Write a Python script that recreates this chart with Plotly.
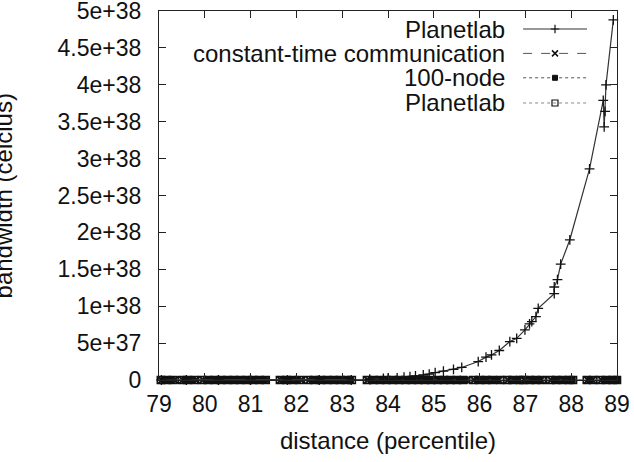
import plotly.graph_objects as go

# ---- data ----
planet_x = [79.05, 79.6, 80.3, 81.0, 81.8, 82.5, 83.2, 83.6, 83.9, 84.0, 84.2, 84.35, 84.48,
            84.6, 84.77, 84.9, 85.03, 85.21, 85.43, 85.61, 85.97, 86.14, 86.26, 86.43, 86.66,
            86.81, 86.99, 87.09, 87.14, 87.23, 87.28, 87.63, 87.63, 87.70, 87.77, 87.97, 88.40,
            88.70, 88.72, 88.74, 88.76, 88.92]
planet_y = [0, 0, 0, 0, 0, 0, 0, 0.01e38, 0.02e38, 0.025e38, 0.03e38, 0.04e38, 0.045e38,
            0.055e38, 0.068e38, 0.08e38, 0.10e38, 0.12e38, 0.145e38, 0.17e38, 0.25e38, 0.31e38,
            0.34e38, 0.40e38, 0.52e38, 0.565e38, 0.68e38, 0.76e38, 0.79e38, 0.86e38, 0.97e38,
            1.17e38, 1.26e38, 1.36e38, 1.57e38, 1.90e38, 2.86e38, 3.79e38, 3.43e38, 3.64e38,
            4.00e38, 4.88e38]

const_x = [79.06, 79.2, 79.34, 79.52, 79.66, 79.8, 79.96, 80.1, 80.24, 80.38, 80.52, 80.66,
           80.8, 80.94, 81.08, 81.22, 81.34, 81.66, 81.8, 81.94, 82.1, 82.28, 82.42, 82.56,
           82.7, 82.84, 82.98, 83.12, 83.56, 83.7, 83.84, 83.98, 84.12, 84.26, 84.4, 84.54,
           84.68, 84.82, 84.96, 85.1, 85.24, 85.38, 85.52, 85.66, 85.88, 86.02, 86.16, 86.3,
           86.42, 86.62, 86.76, 86.86, 86.98, 87.12, 87.26, 87.34, 87.56, 87.7, 87.84, 87.98,
           88.36, 88.46, 88.66, 88.8, 88.94]
const_y = [0] * len(const_x)

node_x = [79.12, 79.27, 79.58, 79.73, 80.03, 80.17, 80.31, 80.45, 80.59, 80.73, 80.87, 81.01,
          81.15, 81.29, 81.72, 81.87, 82.02, 82.35, 82.49, 82.63, 82.77, 82.91, 83.05, 83.18,
          83.63, 83.77, 83.91, 84.05, 84.19, 84.33, 84.47, 84.61, 84.75, 84.89, 85.03, 85.17,
          85.31, 85.45, 85.59, 85.7, 85.95, 86.09, 86.23, 86.37, 86.69, 86.82, 87.05, 87.19,
          87.3, 87.63, 87.77, 87.91, 88.02, 88.41, 88.73, 88.87, 88.99]
node_y = [0] * len(node_x)

planet2_x = [79.04, 79.16, 79.3, 79.5, 79.62, 79.77, 79.94, 80.07, 80.21, 80.35, 80.49, 80.63,
             80.77, 80.91, 81.05, 81.19, 81.33, 81.64, 81.78, 81.92, 82.06, 82.25, 82.39,
             82.53, 82.67, 82.81, 82.95, 83.09, 83.21, 83.54, 83.68, 83.82, 83.96, 84.1, 84.24,
             84.38, 84.52, 84.66, 84.8, 84.94, 85.08, 85.22, 85.36, 85.5, 85.64, 85.86, 86.0,
             86.14, 86.28, 86.45, 86.6, 86.72, 86.88, 86.95, 87.09, 87.22, 87.36, 87.54, 87.67,
             87.81, 87.95, 88.04, 88.34, 88.48, 88.63, 88.77, 88.9, 89.0]
planet2_y = [0] * len(planet2_x)

series_names = ["Planetlab", "constant-time communication", "100-node", "Planetlab"]
y_tickvals = [0, 0.5e38, 1e38, 1.5e38, 2e38, 2.5e38, 3e38, 3.5e38, 4e38, 4.5e38, 5e38]
y_ticktext = ["0", "5e+37", "1e+38", "1.5e+38", "2e+38", "2.5e+38", "3e+38", "3.5e+38",
              "4e+38", "4.5e+38", "5e+38"]
x_tickvals = [79, 80, 81, 82, 83, 84, 85, 86, 87, 88, 89]

# ---- styles ----
FONT = "Liberation Sans, Arial, sans-serif"
INK = "#111111"
styles = [
    dict(line=dict(color="#333333", width=1.2, dash="solid"),
         marker=dict(symbol="cross-thin-open", size=7, color=INK, line=dict(color=INK, width=1.3))),
    dict(line=dict(color="#555555", width=1, dash="dash"),
         marker=dict(symbol="x-thin-open", size=7, color=INK, line=dict(color=INK, width=2))),
    dict(line=dict(color="#555555", width=1, dash="dot"),
         marker=dict(symbol="square", size=6, color=INK, line=dict(color=INK, width=1))),
    dict(line=dict(color="#888888", width=1, dash="dot"),
         marker=dict(symbol="square-open", size=7, color=INK, line=dict(color=INK, width=1.6))),
]

fig = go.Figure()
order = [(planet2_x, planet2_y, 3), (node_x, node_y, 2), (const_x, const_y, 1), (planet_x, planet_y, 0)]
for xs, ys, i in order:
    fig.add_trace(go.Scatter(x=xs, y=ys, mode="lines+markers", name=series_names[i],
                             line=styles[i]["line"], marker=styles[i]["marker"],
                             cliponaxis=False, showlegend=False))

# ---- manual gnuplot-style legend (text right, sample on the right) ----
leg_rows = [0.9512, 0.8851, 0.8190, 0.7507]
leg_marker_styles = [
    dict(symbol="cross-thin-open", size=6, color=INK, line=dict(color=INK, width=1.2)),
    dict(symbol="x-thin-open", size=6, color=INK, line=dict(color=INK, width=1.5)),
    dict(symbol="square", size=5, color=INK, line=dict(color=INK, width=1)),
    dict(symbol="square-open", size=6, color=INK, line=dict(color="#333333", width=1.2)),
]
for i, yy in enumerate(leg_rows):
    fig.add_trace(go.Scatter(x=[0.795, 0.8646, 0.9345], y=[yy, yy, yy], mode="lines",
                             line=styles[i]["line"], xaxis="x2", yaxis="y2",
                             showlegend=False, hoverinfo="skip"))
    fig.add_trace(go.Scatter(x=[0.8646], y=[yy], mode="markers", marker=leg_marker_styles[i],
                             xaxis="x2", yaxis="y2", showlegend=False, hoverinfo="skip"))
    fig.add_annotation(x=0.7598, y=yy, xref="x2", yref="y2", text=series_names[i],
                       showarrow=False, xanchor="right", yanchor="middle",
                       font=dict(family=FONT, size=24, color=INK))

fig.add_annotation(x=-0.3385, y=0.5, xref="paper", yref="paper", text="bandwidth (celcius)",
                   textangle=-90, showarrow=False, xanchor="center", yanchor="middle",
                   font=dict(family=FONT, size=24, color=INK))

axis_common = dict(showline=True, linecolor="#222222", linewidth=1.2, mirror="ticks",
                   ticks="inside", ticklen=7, tickcolor="#222222", showgrid=False,
                   zeroline=False, ticklabeloverflow="allow", automargin=False,
                   tickfont=dict(family=FONT, size=23, color=INK))

fig.update_layout(
    width=634, height=462,
    margin=dict(l=159, r=17, t=11, b=82),
    plot_bgcolor="white", paper_bgcolor="white",
    xaxis=dict(range=[79, 89], tickvals=x_tickvals, ticklabelstandoff=3,
               title=dict(text="distance (percentile)", standoff=16,
                          font=dict(family=FONT, size=24, color=INK)),
               **axis_common),
    yaxis=dict(range=[0, 5e38], tickvals=y_tickvals, ticktext=y_ticktext,
               ticklabelstandoff=12, **axis_common),
    xaxis2=dict(overlaying="x", range=[0, 1], visible=False),
    yaxis2=dict(overlaying="y", range=[0, 1], visible=False),
    showlegend=False,
)

fig.write_html("out.html")
